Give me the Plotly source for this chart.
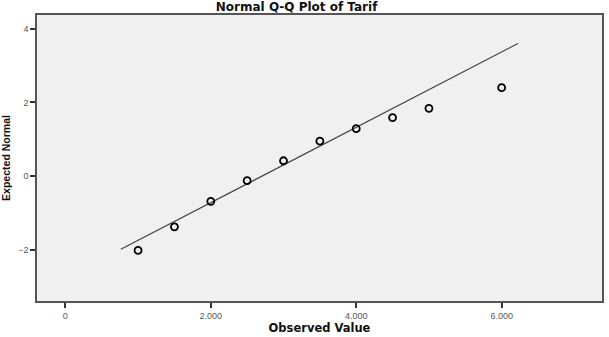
import plotly.graph_objects as go

observed = [1000, 1500, 2000, 2500, 3000, 3500, 4000, 4500, 5000, 6000]
expected = [-2.01, -1.37, -0.68, -0.12, 0.42, 0.95, 1.29, 1.59, 1.84, 2.40]
line_x = [762, 6225]
line_y = [-1.98, 3.60]
x_ticks = [0, 2000, 4000, 6000]
y_ticks = [-2, 0, 2, 4]

fig = go.Figure()
fig.add_trace(go.Scatter(x=line_x, y=line_y, mode="lines",
                         line=dict(color="#444444", width=1.2), hoverinfo="skip"))
fig.add_trace(go.Scatter(x=observed, y=expected, mode="markers",
                         marker=dict(symbol="circle-open", size=7, color="black",
                                     line=dict(width=1.8, color="black"))))

fig.update_layout(
    width=609, height=337,
    margin=dict(l=37, r=5, t=15, b=36),
    paper_bgcolor="white", plot_bgcolor="#f0f0f0",
    showlegend=False,
    separators=",.",
    font=dict(family="Liberation Sans, Arial, sans-serif", color="#333333"),
    title=dict(text="<b>Normal Q-Q Plot of Tarif</b>", x=0.487, xanchor="center",
               yref="container", y=1 - 7 / 337, yanchor="middle",
               font=dict(family="DejaVu Sans", size=12, color="#111111")),
)
fig.update_xaxes(range=[-390, 7380], tickvals=x_ticks, tickformat=",.0f",
                 ticks="outside", ticklen=5, tickcolor="#333333", tickwidth=1.5,
                 showgrid=False, zeroline=False,
                 showline=True, linecolor="#555555", linewidth=1.5, mirror=True,
                 tickfont=dict(size=9, color="#555555"),
                 title=dict(text="<b>Observed Value</b>",
                            font=dict(family="DejaVu Sans", size=11.5, color="#111111"),
                            standoff=3))
fig.update_yaxes(range=[-3.38, 4.37], tickvals=y_ticks,
                 ticks="outside", ticklen=5, tickcolor="#333333", tickwidth=1.5,
                 showgrid=False, zeroline=False,
                 showline=True, linecolor="#555555", linewidth=1.5, mirror=True,
                 tickfont=dict(size=9, color="#555555"),
                 title=dict(text="<b>Expected Normal</b>", font=dict(size=10.5, color="#111111"),
                            standoff=6))

fig.write_html("out.html")
